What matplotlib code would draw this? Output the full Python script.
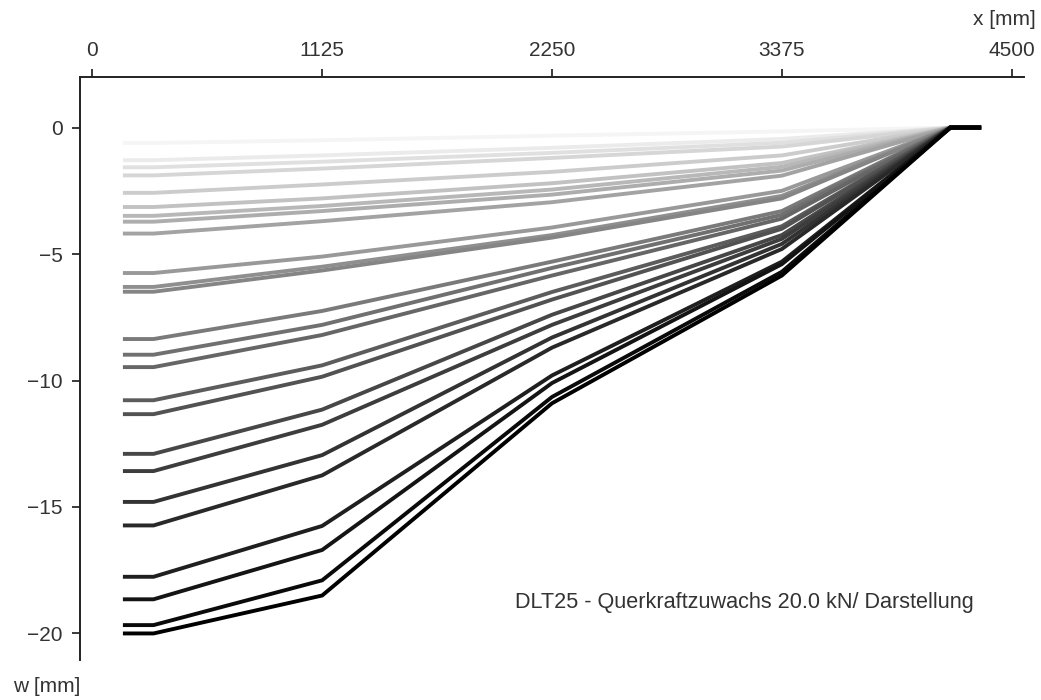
import numpy as np
import matplotlib
matplotlib.use("Agg")
import matplotlib.pyplot as plt

plt.rcParams['font.family'] = ['Liberation Sans', 'DejaVu Sans']

# Measuring points along the beam [mm]
x_pos = [150, 300, 1125, 2250, 3375, 4200, 4350]

# Deflection w [mm] per load step at the measuring points
w_start = [-0.61, -1.29, -1.57, -1.89, -2.58, -3.14, -3.49, -3.72, -4.19,
           -5.75, -6.30, -6.49, -8.36, -8.98, -9.47, -10.78, -11.33,
           -12.90, -13.58, -14.80, -15.73, -17.76, -18.65, -19.67, -20.00]
w_1125 = [-0.50, -1.10, -1.35, -1.62, -2.25, -2.80, -3.10, -3.30, -3.70,
          -5.10, -5.50, -5.65, -7.25, -7.80, -8.20, -9.40, -9.85,
          -11.15, -11.75, -12.95, -13.75, -15.75, -16.70, -17.90, -18.50]
w_2250 = [-0.32, -0.80, -1.00, -1.20, -1.75, -2.20, -2.45, -2.65, -2.95,
          -3.95, -4.25, -4.35, -5.30, -5.55, -5.85, -6.50, -6.80,
          -7.40, -7.80, -8.30, -8.70, -9.80, -10.10, -10.65, -10.90]
w_3375 = [-0.15, -0.45, -0.60, -0.75, -1.10, -1.40, -1.55, -1.70, -1.90,
          -2.50, -2.70, -2.80, -3.30, -3.45, -3.60, -3.90, -4.00,
          -4.25, -4.40, -4.60, -4.80, -5.30, -5.40, -5.70, -5.85]

n = len(w_start)
greys = np.linspace(0.96, 0.0, n)

fig = plt.figure(figsize=(10.41, 7.0), dpi=100)
ax = fig.add_axes([80 / 1041, 40 / 700, 944 / 1041, 583 / 700])

for i in range(n):
    w = [w_start[i], w_start[i], w_1125[i], w_2250[i], w_3375[i], 0.0, 0.0]
    ax.plot(x_pos, w, color=str(greys[i]), lw=2.8, solid_joinstyle='miter',
            solid_capstyle='butt')

ax.set_xlim(-60, 4560)
ax.set_ylim(-21.05, 2.0)
ax.set_xticks([0, 1125, 2250, 3375, 4500])
ax.set_yticks([0, -5, -10, -15, -20])
ax.set_yticklabels(['0', '\u22125', '\u221210', '\u221215', '\u221220'])

ax.xaxis.tick_top()
for side in ['right', 'bottom']:
    ax.spines[side].set_visible(False)
for side in ['left', 'top']:
    ax.spines[side].set_linewidth(1.4)
    ax.spines[side].set_color('#222222')
ax.tick_params(axis='both', direction='out', length=6, width=1.25,
               color='#222222', labelcolor='#333333', labelsize=15, pad=6.5)

ax.text(1.012, 1.098, 'x [mm]', transform=ax.transAxes, ha='right',
        va='center', fontsize=15, color='#333333')
ax.text(-0.071, -0.045, 'w [mm]', transform=ax.transAxes, ha='left',
        va='center', fontsize=15, color='#333333')
ax.text(4312, -18.78, 'DLT25 - Querkraftzuwachs 20.0 kN/ Darstellung',
        ha='right', va='center', fontsize=15.6, color='#333333')

fig.savefig('out.png', dpi=100)
